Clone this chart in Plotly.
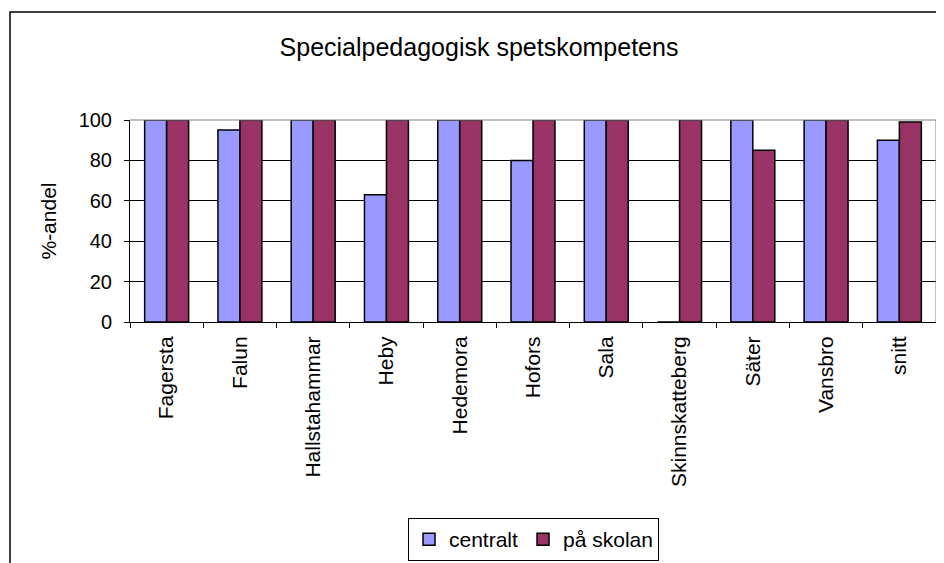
import plotly.graph_objects as go

categories = ["Fagersta", "Falun", "Hallstahammar", "Heby", "Hedemora", "Hofors",
              "Sala", "Skinnskatteberg", "Säter", "Vansbro", "snitt"]
centralt = [100, 95, 100, 63, 100, 80, 100, 0, 100, 100, 90]
pa_skolan = [100, 100, 100, 100, 100, 100, 100, 100, 85, 100, 99]
y_ticks = [0, 20, 40, 60, 80, 100]

FONT = "Liberation Sans, Arial, sans-serif"
OFF = 8  # page body margin
W, H = 944, 563
# plot area in screen px: x 130..936, y 120..322
L = 130 - OFF
T = 120 - OFF
R = W - (936 - OFF)
B = H - (322 - OFF)
pw, ph = W - L - R, H - T - B

def px_x(px):
    return (px - OFF - L) / pw

def px_y(py):
    return (H - B - (py - OFF)) / ph

fig = go.Figure()
fig.add_trace(go.Bar(x=categories, y=centralt, name="centralt",
                     marker=dict(color="#9999FF", line=dict(color="black", width=1.5))))
fig.add_trace(go.Bar(x=categories, y=pa_skolan, name="på skolan",
                     marker=dict(color="#993366", line=dict(color="black", width=1.5))))

fig.update_layout(
    width=W, height=H,
    margin=dict(l=L, r=R, t=T, b=B, autoexpand=False),
    paper_bgcolor="white", plot_bgcolor="white",
    barmode="group", bargap=0.4, bargroupgap=0,
    font=dict(family=FONT, color="black", size=20),
    title=dict(text="Specialpedagogisk spetskompetens", x=(479 - OFF) / W, xanchor="center",
               y=1 - (47 - OFF) / H, yanchor="middle", font=dict(size=25, family=FONT)),
    showlegend=True,
    legend=dict(orientation="h", x=px_x(408), xanchor="left", y=px_y(518), yanchor="top",
                bordercolor="black", borderwidth=1, bgcolor="white",
                font=dict(size=21, family=FONT), itemwidth=30, tracegroupgap=0),
    xaxis=dict(showline=True, linecolor="black", linewidth=1, mirror=False, automargin=False,
               ticks="outside", ticklen=5, tickcolor="black", tickson="boundaries",
               ticklabelstandoff=5,
               tickangle=-90, tickfont=dict(size=21, family=FONT), showgrid=False),
    yaxis=dict(range=[0, 100], tickvals=y_ticks, showline=True, linecolor="black", linewidth=1,
               ticks="outside", ticklen=5, tickcolor="black", showgrid=True, automargin=False,
               gridcolor="black", gridwidth=1, zeroline=False, ticklabelstandoff=8,
               tickfont=dict(size=20, family=FONT),
               title=dict(text="%-andel", font=dict(size=21, family=FONT), standoff=16)),
    shapes=[
        dict(type="line", xref="paper", yref="paper", x0=0, x1=1, y0=1, y1=1,
             line=dict(color="#808080", width=1)),
        dict(type="line", xref="paper", yref="paper", x0=1, x1=1, y0=0, y1=1,
             line=dict(color="#808080", width=1)),
        dict(type="rect", xref="paper", yref="paper", x0=px_x(10), x1=px_x(1200),
             y0=px_y(900), y1=px_y(12), line=dict(color="black", width=1.5)),
    ],
)

fig.write_html("out.html")
